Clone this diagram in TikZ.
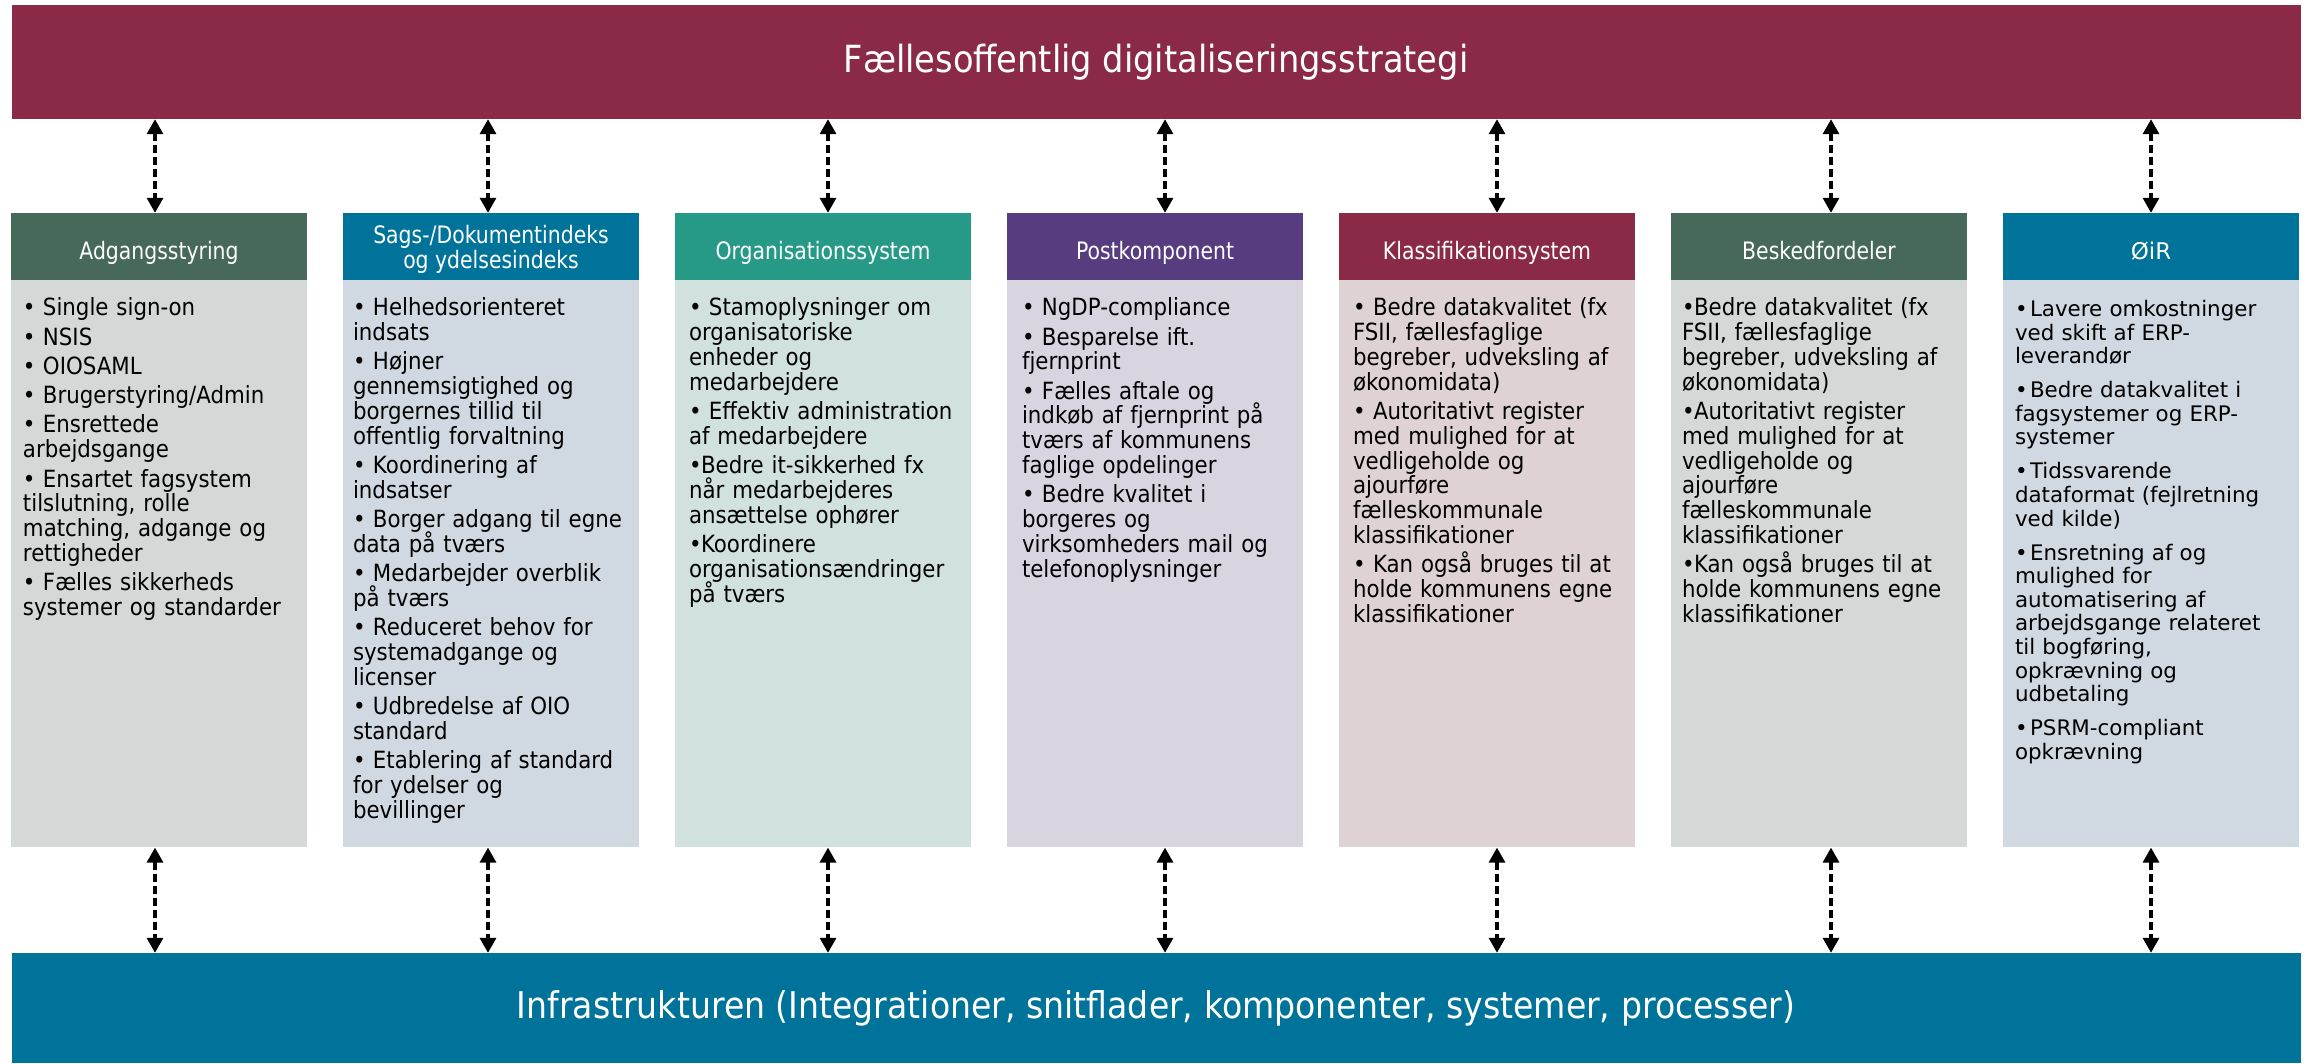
\documentclass[tikz,border=0pt]{standalone}
\usepackage{fontspec}
\setmainfont[FakeStretch=0.9]{DejaVu Sans}
\newfontfamily\hdfont[FakeStretch=0.85]{DejaVu Sans}
\newfontfamily\vfont{DejaVu Sans}
\usetikzlibrary{positioning,arrows.meta}

\definecolor{vinrod}{HTML}{8B2A47}
\definecolor{moerkgroen}{HTML}{46695A}
\definecolor{petrol}{HTML}{00739A}
\definecolor{tuerkis}{HTML}{269A87}
\definecolor{lilla}{HTML}{573D80}
\definecolor{lysgraa}{HTML}{D4D8D7}
\definecolor{lysblaa}{HTML}{D0D9E1}
\definecolor{lystuerkis}{HTML}{D1E2DE}
\definecolor{lyslilla}{HTML}{D8D4E0}
\definecolor{lysrosa}{HTML}{DFD2D5}

\newcommand{\pkt}[1]{\par\hangindent=12pt\hangafter=1\noindent\makebox[20pt][l]{•}#1\par}
\newcommand{\pktv}[2][12pt]{\par\hangindent=#1\hangafter=1\noindent\makebox[#1][l]{•}#2\par}

\begin{document}
\begin{tikzpicture}[x=1pt,y=-1pt,
  bar/.style={minimum width=2289pt,inner sep=0pt,text=white,
    font=\fontsize{37.4}{40}\selectfont},
  hd/.style={minimum width=296pt,minimum height=67pt,inner sep=0pt,text=white,
    align=center,font=\hdfont\fontsize{24}{25}\selectfont},
  enlinje/.style={text height=25pt,text depth=0pt},
  bd/.style={minimum width=296pt,minimum height=567pt,inner sep=0pt,below=0pt of #1},
  txt/.style={anchor=north west,inner sep=0pt,text width=280pt,align=left,
    font=\fontsize{23.7}{24.8}\selectfont},
  txtv/.style={anchor=north west,inner sep=0pt,text width=280pt,align=left,
    font=\vfont\fontsize{21.4}{23.6}\selectfont},
  arr/.style={line width=3.2pt,dash pattern=on 8pt off 4pt,
    {Triangle[width=16pt,length=15pt]}-{Triangle[width=16pt,length=15pt]}}]
\useasboundingbox (0,0) rectangle (2313,1063);

\node[bar,fill=vinrod,minimum height=114pt] (strat) at (1156,62) {Fællesoffentlig digitaliseringsstrategi};
\node[bar,fill=petrol,minimum height=110pt,font=\fontsize{36.8}{40}\selectfont] (infra) at (1156,1008) {Infrastrukturen (Integrationer, snitflader, komponenter, systemer, processer)};

\node[hd,enlinje,fill=moerkgroen] (hd1) at (159,246.5) {Adgangsstyring};
\node[hd,fill=petrol,text depth=0pt] (hd2) at (491,246.5) {Sags-/Dokumentindeks\\og ydelsesindeks};
\node[hd,enlinje,fill=tuerkis] (hd3) at (823,246.5) {Organisationssystem};
\node[hd,enlinje,fill=lilla] (hd4) at (1155,246.5) {Postkomponent};
\node[hd,enlinje,fill=vinrod] (hd5) at (1487,246.5) {Klassifikationsystem};
\node[hd,enlinje,fill=moerkgroen] (hd6) at (1819,246.5) {Beskedfordeler};
\node[hd,enlinje,fill=petrol,font=\vfont\fontsize{23}{25}\selectfont] (hd7) at (2151,246.5) {ØiR};

\node[bd=hd1,fill=lysgraa] (bd1) {};
\node[bd=hd2,fill=lysblaa] (bd2) {};
\node[bd=hd3,fill=lystuerkis] (bd3) {};
\node[bd=hd4,fill=lyslilla] (bd4) {};
\node[bd=hd5,fill=lysrosa] (bd5) {};
\node[bd=hd6,fill=lysgraa] (bd6) {};
\node[bd=hd7,fill=lysblaa] (bd7) {};

\node[txt,below right=6pt and 12pt of bd1.north west] (tx1) {\setlength{\parskip}{4.5pt}\lineskiplimit=-10pt%
\pkt{Single sign-on}
\pkt{NSIS}
\pkt{OIOSAML}
\pkt{Brugerstyring/Admin}
\pkt{Ensrettede\\arbejdsgange}
\pkt{Ensartet fagsystem\\tilslutning, rolle\\matching, adgange og\\rettigheder}
\pkt{Fælles sikkerheds\\systemer og standarder}};

\node[txt,below right=6pt and 10pt of bd2.north west] (tx2) {\setlength{\parskip}{4.5pt}\lineskiplimit=-10pt%
\pkt{Helhedsorienteret\\indsats}
\pkt{Højner\\gennemsigtighed og\\borgernes tillid til\\offentlig forvaltning}
\pkt{Koordinering af\\indsatser}
\pkt{Borger adgang til egne\\data på tværs}
\pkt{Medarbejder overblik\\på tværs}
\pkt{Reduceret behov for\\systemadgange og\\licenser}
\pkt{Udbredelse af OIO\\standard}
\pkt{Etablering af standard\\for ydelser og\\bevillinger}};

\node[txt,below right=6pt and 14pt of bd3.north west] (tx3) {\setlength{\parskip}{4.5pt}\lineskiplimit=-10pt%
\pkt{Stamoplysninger om\\organisatoriske\\enheder og\\medarbejdere}
\pkt{Effektiv administration\\af medarbejdere}
\pktv{Bedre it-sikkerhed fx\\når medarbejderes\\ansættelse ophører}
\pktv{Koordinere\\organisationsændringer\\på tværs}};

\node[txt,below right=6pt and 15pt of bd4.north west] (tx4) {\setlength{\parskip}{4.5pt}\lineskiplimit=-10pt%
\pkt{NgDP-compliance}
\pkt{Besparelse ift.\\fjernprint}
\pkt{Fælles aftale og\\indkøb af fjernprint på\\tværs af kommunens\\faglige opdelinger}
\pkt{Bedre kvalitet i\\borgeres og\\virksomheders mail og\\telefonoplysninger}};

\node[txt,below right=6pt and 14pt of bd5.north west] (tx5) {\setlength{\parskip}{4.5pt}\lineskiplimit=-10pt%
\pkt{Bedre datakvalitet (fx\\FSII, fællesfaglige\\begreber, udveksling af\\økonomidata)}
\pkt{Autoritativt register\\med mulighed for at\\vedligeholde og\\ajourføre\\fælleskommunale\\klassifikationer}
\pkt{Kan også bruges til at\\holde kommunens egne\\klassifikationer}};

\node[txt,below right=6pt and 11pt of bd6.north west] (tx6) {\setlength{\parskip}{4.5pt}\lineskiplimit=-10pt%
\pktv{Bedre datakvalitet (fx\\FSII, fællesfaglige\\begreber, udveksling af\\økonomidata)}
\pktv{Autoritativt register\\med mulighed for at\\vedligeholde og\\ajourføre\\fælleskommunale\\klassifikationer}
\pktv{Kan også bruges til at\\holde kommunens egne\\klassifikationer}};

\node[txtv,below right=2pt and 12pt of bd7.north west] (tx7) {\setlength{\parskip}{10.4pt}%
\pktv[15pt]{Lavere omkostninger\\ved skift af ERP-\\leverandør}
\pktv[15pt]{Bedre datakvalitet i\\fagsystemer og ERP-\\systemer}
\pktv[15pt]{Tidssvarende\\dataformat (fejlretning\\ved kilde)}
\pktv[15pt]{Ensretning af og\\mulighed for\\automatisering af\\arbejdsgange relateret\\til bogføring,\\opkrævning og\\udbetaling}
\pktv[15pt]{PSRM-compliant\\opkrævning}};

\draw[arr] ([xshift=-4pt]hd1.north |- strat.south) -- ([xshift=-4pt]hd1.north);
\draw[arr] ([xshift=-3pt]hd2.north |- strat.south) -- ([xshift=-3pt]hd2.north);
\draw[arr] ([xshift=5pt]hd3.north |- strat.south) -- ([xshift=5pt]hd3.north);
\draw[arr] ([xshift=10pt]hd4.north |- strat.south) -- ([xshift=10pt]hd4.north);
\draw[arr] ([xshift=10pt]hd5.north |- strat.south) -- ([xshift=10pt]hd5.north);
\draw[arr] ([xshift=12pt]hd6.north |- strat.south) -- ([xshift=12pt]hd6.north);
\draw[arr] (hd7.north |- strat.south) -- (hd7.north);

\draw[arr] ([xshift=-4pt]bd1.south) -- ([xshift=-4pt]bd1.south |- infra.north);
\draw[arr] ([xshift=-3pt]bd2.south) -- ([xshift=-3pt]bd2.south |- infra.north);
\draw[arr] ([xshift=5pt]bd3.south) -- ([xshift=5pt]bd3.south |- infra.north);
\draw[arr] ([xshift=10pt]bd4.south) -- ([xshift=10pt]bd4.south |- infra.north);
\draw[arr] ([xshift=10pt]bd5.south) -- ([xshift=10pt]bd5.south |- infra.north);
\draw[arr] ([xshift=12pt]bd6.south) -- ([xshift=12pt]bd6.south |- infra.north);
\draw[arr] (bd7.south) -- (bd7.south |- infra.north);
\end{tikzpicture}
\end{document}
